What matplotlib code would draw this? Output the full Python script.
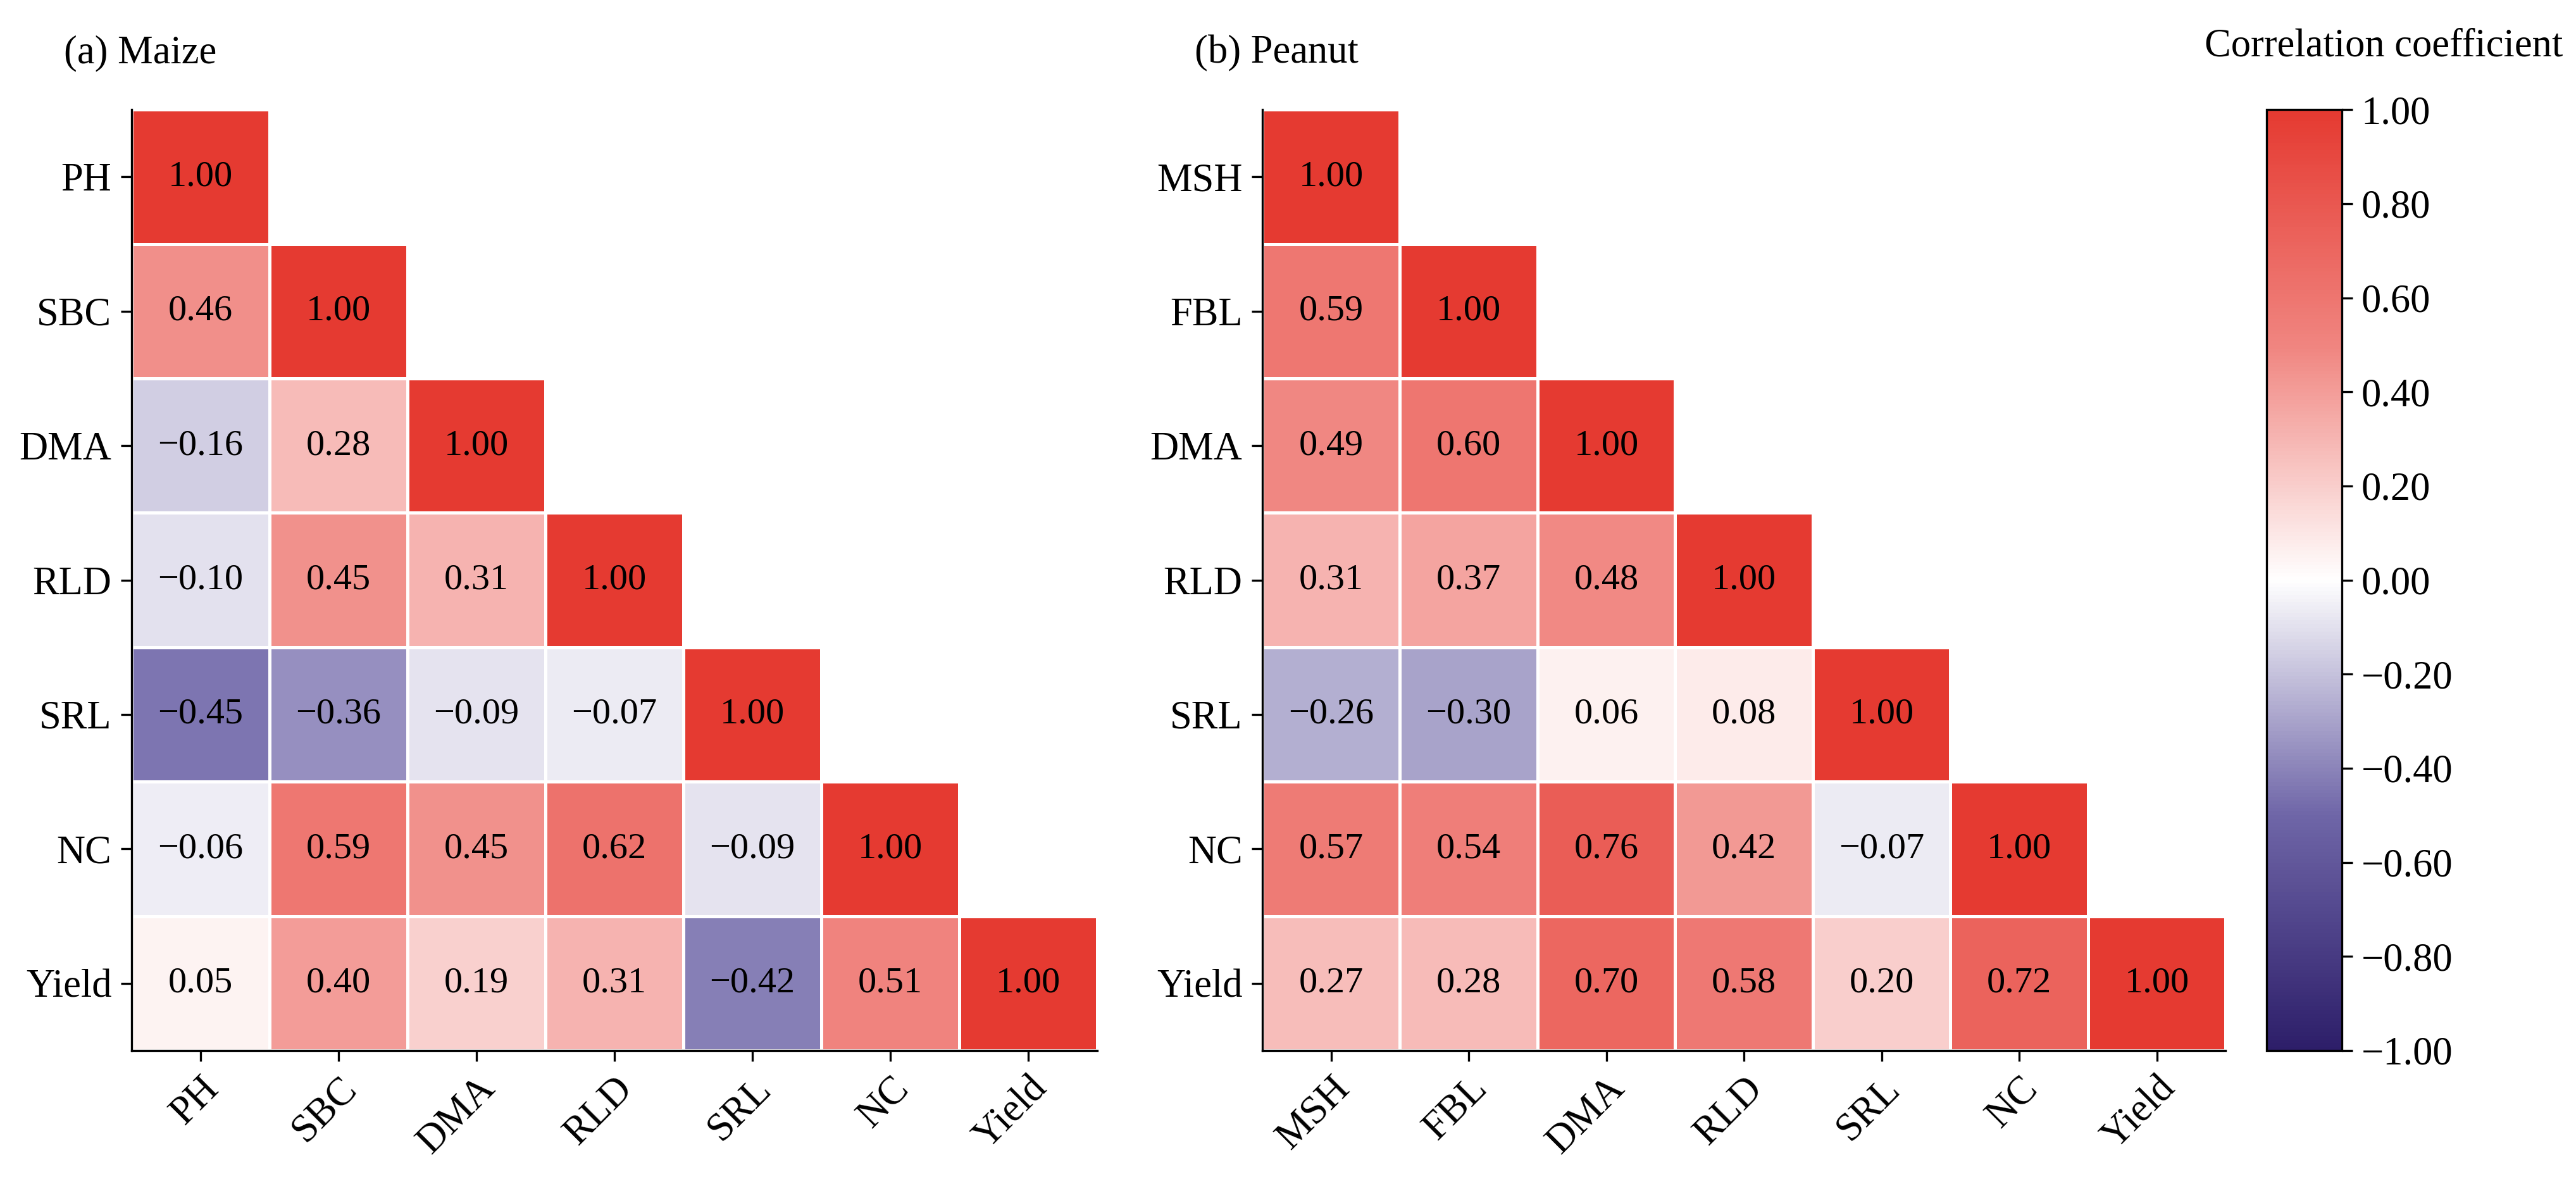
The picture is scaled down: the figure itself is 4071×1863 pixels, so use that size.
import matplotlib.pyplot as plt
import numpy as np
from matplotlib.colors import LinearSegmentedColormap, Normalize
from matplotlib.cm import ScalarMappable

plt.rcParams['font.family'] = ['Liberation Serif', 'DejaVu Serif']
plt.rcParams['font.size'] = 14

maize_labels = ['PH', 'SBC', 'DMA', 'RLD', 'SRL', 'NC', 'Yield']
maize_rows = [
    [1.00],
    [0.46, 1.00],
    [-0.16, 0.28, 1.00],
    [-0.10, 0.45, 0.31, 1.00],
    [-0.45, -0.36, -0.09, -0.07, 1.00],
    [-0.06, 0.59, 0.45, 0.62, -0.09, 1.00],
    [0.05, 0.40, 0.19, 0.31, -0.42, 0.51, 1.00],
]

peanut_labels = ['MSH', 'FBL', 'DMA', 'RLD', 'SRL', 'NC', 'Yield']
peanut_rows = [
    [1.00],
    [0.59, 1.00],
    [0.49, 0.60, 1.00],
    [0.31, 0.37, 0.48, 1.00],
    [-0.26, -0.30, 0.06, 0.08, 1.00],
    [0.57, 0.54, 0.76, 0.42, -0.07, 1.00],
    [0.27, 0.28, 0.70, 0.58, 0.20, 0.72, 1.00],
]

cmap = LinearSegmentedColormap.from_list('rb', [
    (0.0, '#2d1e69'), (0.25, '#6f66a8'), (0.5, '#ffffff'),
    (0.75, '#f08580'), (1.0, '#e53a31')])
norm = Normalize(-1, 1)

fig = plt.figure(figsize=(4071 / 300, 1863 / 300), dpi=300)


def draw(ax, labels, rows, title):
    n = len(labels)
    for i, row in enumerate(rows):
        for j, v in enumerate(row):
            ax.add_patch(plt.Rectangle((j, n - 1 - i), 1, 1, facecolor=cmap(norm(v)),
                                       edgecolor='white', linewidth=1.2))
            txt = f'{v:.2f}'.replace('-', '\u2212')
            ax.text(j + 0.5, n - 0.5 - i, txt, ha='center', va='center', fontsize=14)
    ax.set_xlim(0, n)
    ax.set_ylim(0, n)
    ax.set_xticks(np.arange(n) + 0.5)
    ax.set_xticklabels(labels, rotation=45, ha='right', rotation_mode='anchor', fontsize=15)
    ax.set_yticks(np.arange(n) + 0.5)
    ax.set_yticklabels(labels[::-1], fontsize=15)
    for s in ['top', 'right']:
        ax.spines[s].set_visible(False)
    ax.tick_params(length=4)
    ax.text(-0.07, 1.04, title, transform=ax.transAxes, fontsize=15, ha='left', va='bottom')


ax1 = fig.add_axes([0.051, 0.109, 0.375, 0.798])
draw(ax1, maize_labels, maize_rows, '(a) Maize')
ax2 = fig.add_axes([0.490, 0.109, 0.374, 0.798])
draw(ax2, peanut_labels, peanut_rows, '(b) Peanut')

cax = fig.add_axes([0.880, 0.109, 0.029, 0.798])
cb = fig.colorbar(ScalarMappable(norm=norm, cmap=cmap), cax=cax)
cb.set_ticks(np.linspace(-1, 1, 11))
cb.set_ticklabels([f'{t:.2f}'.replace('-', '\u2212') for t in np.linspace(-1, 1, 11)])
cb.ax.tick_params(labelsize=15, length=4)
cb.outline.set_linewidth(0.8)
fig.text(0.995, 0.945, 'Correlation coefficient', ha='right', va='bottom', fontsize=15)

fig.savefig('out.png', dpi=300)
